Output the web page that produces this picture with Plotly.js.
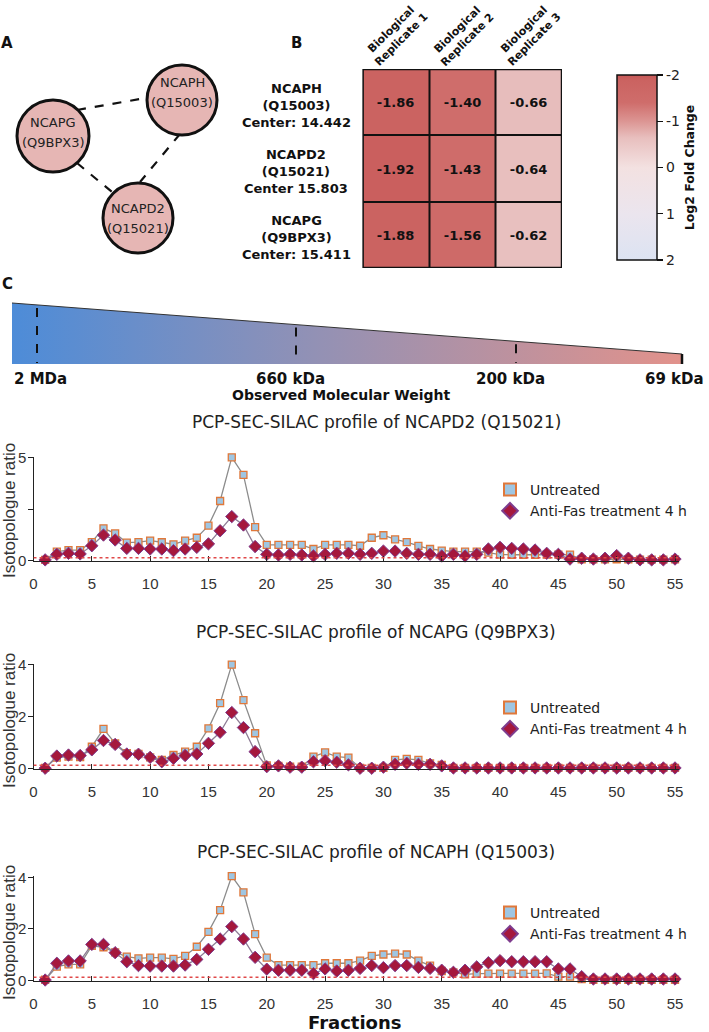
<!DOCTYPE html>
<html><head><meta charset="utf-8">
<script src="https://cdn.plot.ly/plotly-3.0.1.min.js"></script>
<style>html,body{margin:0;padding:0;background:#fff}#chart{width:709px;height:1032px}</style>
</head><body><div id="chart"></div>
<script>
// ---------------- DATA ----------------
// Panel A: interaction network
const nodeNames = ['NCAPH', 'NCAPG', 'NCAPD2'];
const nodeIds = ['(Q15003)', '(Q9BPX3)', '(Q15021)'];
const edgeFrom = ['NCAPG', 'NCAPG', 'NCAPH'];
const edgeTo = ['NCAPH', 'NCAPD2', 'NCAPD2'];

// Panel B: heatmap of log2 fold change
const hmProteins = ['NCAPH', 'NCAPD2', 'NCAPG'];
const hmIds = ['(Q15003)', '(Q15021)', '(Q9BPX3)'];
const hmCenters = ['Center: 14.442', 'Center 15.803', 'Center: 15.411'];
const hmReplicates = ['Biological<br>Replicate 1', 'Biological<br>Replicate 2', 'Biological<br>Replicate 3'];
const replicate1 = [-1.86, -1.92, -1.88];
const replicate2 = [-1.40, -1.43, -1.56];
const replicate3 = [-0.66, -0.64, -0.62];
const colorbarTicks = [-2, -1, 0, 1, 2];
const colorbarTitle = 'Log2 Fold Change';

// Panel C: molecular weight scale
const mwLabels = ['2 MDa', '660 kDa', '200 kDa', '69 kDa'];
const mwTitle = 'Observed Molecular Weight';

// Profiles
const fractions = [1,2,3,4,5,6,7,8,9,10,11,12,13,14,15,16,17,18,19,20,21,22,23,24,25,26,27,28,29,30,31,32,33,34,35,36,37,38,39,40,41,42,43,44,45,46,47,48,49,50,51,52,53,54,55];
const xTickVals = [0,5,10,15,20,25,30,35,40,45,50,55];
const seriesNames = ['Untreated', 'Anti-Fas treatment 4 h'];
const profileTitles = ['PCP-SEC-SILAC profile of NCAPD2 (Q15021)', 'PCP-SEC-SILAC profile of NCAPG (Q9BPX3)', 'PCP-SEC-SILAC profile of NCAPH (Q15003)'];
const ncapd2Untreated = [0.02,0.42,0.5,0.5,0.89,1.56,1.31,0.86,0.89,0.96,
  0.88,0.78,0.96,1.1,1.69,2.89,5.02,4.16,1.62,0.75,
  0.75,0.75,0.75,0.55,0.75,0.75,0.75,0.71,1.1,1.22,
  1.02,0.89,0.7,0.55,0.47,0.42,0.42,0.42,0.37,0.28,
  0.27,0.27,0.27,0.28,0.28,0.28,0.05,0.04,0.04,0.05,
  0.04,0.03,0.03,0.03,0.04];
const ncapd2AntiFas = [0.02,0.29,0.34,0.31,0.71,1.23,0.99,0.58,0.58,0.55,
  0.55,0.47,0.55,0.63,0.8,1.44,2.13,1.72,0.67,0.29,
  0.26,0.29,0.26,0.21,0.29,0.34,0.34,0.29,0.34,0.45,
  0.45,0.34,0.29,0.29,0.21,0.29,0.21,0.29,0.55,0.63,
  0.58,0.55,0.5,0.34,0.29,0.06,0.1,0.06,0.1,0.23,
  0.1,0.02,0.02,0.02,0.06];
const ncapgUntreated = [0.02,0.42,0.46,0.44,0.84,1.53,0.97,0.59,0.56,0.43,
  0.33,0.52,0.65,0.84,1.55,2.52,4.01,2.64,1.36,0.12,
  0.1,0.07,0.07,0.46,0.62,0.46,0.42,0.02,0.02,0.02,
  0.33,0.37,0.33,0.2,0.14,0.02,0.02,0.02,0.02,0.02,
  0.02,0.02,0.02,0.02,0.02,0.02,0.02,0.02,0.02,0.02,
  0.02,0.02,0.02,0.02,0.02];
const ncapgAntiFas = [0.01,0.48,0.52,0.5,0.72,1.08,0.93,0.56,0.55,0.43,
  0.26,0.39,0.5,0.56,0.97,1.4,2.16,1.58,0.65,0.07,
  0.1,0.05,0.05,0.26,0.3,0.24,0.14,0.01,0.01,0.05,
  0.16,0.2,0.16,0.16,0.1,0.02,0.02,0.02,0.02,0.02,
  0.02,0.02,0.02,0.02,0.02,0.02,0.02,0.02,0.02,0.02,
  0.02,0.02,0.02,0.02,0.02];
const ncaphUntreated = [0.02,0.53,0.62,0.62,1.33,1.28,1.08,0.92,0.85,0.88,
  0.88,0.83,0.95,1.3,1.88,2.72,4.04,3.41,1.79,0.88,
  0.59,0.59,0.59,0.59,0.66,0.66,0.66,0.76,0.95,1.0,
  1.03,1.0,0.76,0.57,0.36,0.31,0.23,0.26,0.26,0.26,
  0.26,0.26,0.26,0.27,0.14,0.14,0.05,0.02,0.02,0.02,
  0.02,0.02,0.02,0.02,0.02];
const ncaphAntiFas = [0.01,0.66,0.75,0.75,1.39,1.39,1.07,0.72,0.57,0.55,
  0.55,0.55,0.59,0.81,1.2,1.6,2.08,1.6,0.89,0.43,
  0.39,0.39,0.39,0.26,0.44,0.36,0.39,0.46,0.57,0.49,
  0.57,0.57,0.5,0.46,0.39,0.31,0.39,0.52,0.68,0.76,
  0.72,0.72,0.72,0.72,0.44,0.44,0.14,0.05,0.05,0.05,
  0.05,0.05,0.05,0.05,0.05];
const thresholdLevel = 0.12;

// ---------------- LAYOUT CONSTANTS (pixels) ----------------
const W = 709, H = 1032;
const fx = p => p / W;
const fy = p => 1 - p / H;
const nodeLayout = {
  NCAPH:  {c: [182, 100], r: 35, t: 92},
  NCAPG:  {c: [53, 136],  r: 36, t: 132},
  NCAPD2: {c: [138, 218], r: 35, t: 218}
};
const edgeLayout = [
  [[77, 110], [146, 98]],
  [[77, 163], [112, 192]],
  [[180, 134], [140, 182]]
];
const profileLayout = [
  {xa: 'x',  ya: 'y',  xk: 'xaxis',  yk: 'yaxis',  lg: 'legend',  bottom: 560.7, top: 456.7, range: [-0.02, 5.05], tv: [0, 2.5, 5], tt: ['0', '', '5'], title: 421.7, ytitle: 511, legTop: 474},
  {xa: 'x3', ya: 'y3', xk: 'xaxis3', yk: 'yaxis3', lg: 'legend2', bottom: 769.0, top: 663.6, range: [-0.02, 4.05], tv: [0, 2, 4], tt: ['0', '2', '4'], title: 631.7, ytitle: 721, legTop: 692},
  {xa: 'x4', ya: 'y4', xk: 'xaxis4', yk: 'yaxis4', lg: 'legend3', bottom: 980.8, top: 875.8, range: [-0.02, 4.05], tv: [0, 2, 4], tt: ['0', '2', '4'], title: 851.7, ytitle: 933, legTop: 897}
];
const profileData = [
  [ncapd2Untreated, ncapd2AntiFas],
  [ncapgUntreated, ncapgAntiFas],
  [ncaphUntreated, ncaphAntiFas]
];
const xRange = [0, 55.3];
const xDomainPx = [33.5, 678.5];
const seriesStyle = [
  {line: {color: '#8c8c8c', width: 1.3}, marker: {symbol: 'square', size: 7, color: '#9fc6e2', line: {color: '#e0783a', width: 1.3}}},
  {line: {color: '#8e7c95', width: 1.3}, marker: {symbol: 'diamond', size: 9.5, color: '#a5183d', line: {color: '#7e3c8e', width: 1}}}
];

const traces = [];
const shapes = [];
const annotations = [];
const layout = {
  width: W, height: H,
  margin: {l: 0, r: 0, t: 0, b: 0},
  paper_bgcolor: '#ffffff',
  plot_bgcolor: 'rgba(0,0,0,0)',
  font: {family: 'DejaVu Sans', color: '#222'},
  showlegend: true
};

const px = (x, y, text, opts) => Object.assign({xref: 'x5', yref: 'y5', x: x, y: y, text: text, showarrow: false, xanchor: 'center', yanchor: 'middle'}, opts || {});

// ---------- Pixel overlay axis ----------
layout.xaxis5 = {domain: [0, 1], range: [0, W], visible: false, fixedrange: true, anchor: 'y5'};
layout.yaxis5 = {domain: [0, 1], range: [H, 0], visible: false, fixedrange: true, anchor: 'x5'};

// ---------- Panel letters ----------
annotations.push(px(7, 43, '<b>A</b>', {font: {size: 15, color: '#111'}}));
annotations.push(px(296, 43, '<b>B</b>', {font: {size: 15, color: '#111'}}));
annotations.push(px(7, 284, '<b>C</b>', {font: {size: 15, color: '#111'}}));

// ---------- Panel A: network ----------
edgeFrom.forEach((f, i) => {
  const e = edgeLayout[i];
  shapes.push({type: 'line', xref: 'x5', yref: 'y5', x0: e[0][0], y0: e[0][1], x1: e[1][0], y1: e[1][1],
    line: {color: '#111', width: 2.2, dash: 'dash'}});
});
nodeNames.forEach((n, i) => {
  const L = nodeLayout[n];
  shapes.push({type: 'circle', xref: 'x5', yref: 'y5', x0: L.c[0] - L.r, x1: L.c[0] + L.r, y0: L.c[1] - L.r, y1: L.c[1] + L.r,
    fillcolor: '#e6b6b4', line: {color: '#111', width: 3}});
  annotations.push(px(L.c[0], L.t - 10, n, {font: {size: 13, color: '#222'}}));
  annotations.push(px(L.c[0], L.t + 10, nodeIds[i], {font: {size: 13, color: '#222'}}));
});

// ---------- Panel B: heatmap ----------
const zRows = hmProteins.map((p, i) => [replicate1[i], replicate2[i], replicate3[i]]);
traces.push({
  type: 'heatmap',
  x: [0, 1, 2],
  y: [0, 1, 2],
  z: zRows.map(r => r.map(v => -v)),
  text: zRows.map(r => r.map(v => '<b>' + v.toFixed(2) + '</b>')),
  texttemplate: '%{text}',
  textfont: {family: 'DejaVu Sans', size: 13, color: '#111'},
  xgap: 2, ygap: 2,
  zmin: -2, zmax: 2,
  colorscale: [[0, '#dce3f2'], [0.25, '#ebe5ee'], [0.5, '#f3e1e1'], [0.66, '#e8bfbe'],
               [0.75, '#dc9593'], [0.85, '#cf6d6b'], [0.97, '#cb6361'], [1, '#c75857']],
  xaxis: 'x2', yaxis: 'y2',
  hoverinfo: 'skip',
  showscale: true,
  colorbar: {
    x: fx(617), xanchor: 'left', xpad: 0,
    y: fy(167.5), yanchor: 'middle', ypad: 0,
    len: 185, lenmode: 'pixels',
    thickness: 40, thicknessmode: 'pixels',
    outlinewidth: 1.5, outlinecolor: '#111',
    tickvals: colorbarTicks.map(v => -v),
    ticktext: colorbarTicks.map(v => String(v)),
    ticks: 'outside', ticklen: 6, tickcolor: '#111', tickwidth: 1.2,
    tickfont: {family: 'DejaVu Sans', size: 14, color: '#222'},
    title: {text: '<b>' + colorbarTitle + '</b>', side: 'right', font: {family: 'DejaVu Sans', size: 12.5, color: '#111'}}
  }
});
layout.xaxis2 = {domain: [fx(362.5), fx(562)], range: [-0.5, 2.5], anchor: 'y2', showticklabels: false, showgrid: false, zeroline: false, ticks: '', fixedrange: true};
layout.yaxis2 = {domain: [fy(268), fy(69)], range: [2.5, -0.5], anchor: 'x2', showticklabels: false, showgrid: false, zeroline: false, ticks: '', fixedrange: true};
shapes.push({type: 'rect', xref: 'x2', yref: 'y2', x0: -0.5, x1: 2.5, y0: -0.5, y1: 2.5, fillcolor: '#111', line: {width: 0}, layer: 'below'});
shapes.push({type: 'rect', xref: 'x2', yref: 'y2', x0: -0.5, x1: 2.5, y0: -0.5, y1: 2.5, fillcolor: 'rgba(0,0,0,0)', line: {color: '#111', width: 2.5}, layer: 'above'});
hmReplicates.forEach((r, j) => {
  annotations.push({xref: 'x2', yref: 'y5', x: j, y: 34, text: '<b>' + r + '</b>', textangle: -45, showarrow: false,
    font: {family: 'DejaVu Sans', size: 11, color: '#111'}, xanchor: 'center', yanchor: 'middle'});
});
hmProteins.forEach((p, i) => {
  annotations.push({xref: 'x5', yref: 'y2', x: 296, y: i, yshift: -3, text: '<b>' + p + '<br>' + hmIds[i] + '<br>' + hmCenters[i] + '</b>',
    showarrow: false, align: 'center', font: {family: 'DejaVu Sans', size: 13, color: '#111'}, xanchor: 'center', yanchor: 'middle'});
});

// ---------- Panel C: molecular weight wedge ----------
const wedgeTop = [303, 354], wedgeX = [12, 682], wedgeBottom = 364;
traces.push({
  type: 'scatter', mode: 'none', xaxis: 'x5', yaxis: 'y5', hoverinfo: 'skip', showlegend: false,
  x: [wedgeX[0], wedgeX[1], wedgeX[1], wedgeX[0]],
  y: [wedgeTop[0], wedgeTop[1], wedgeBottom, wedgeBottom],
  fill: 'toself',
  fillgradient: {type: 'horizontal', colorscale: [[0, '#4d8cd8'], [0.45, '#9291b5'], [1, '#e2928b']]}
});
shapes.push({type: 'line', xref: 'x5', yref: 'y5', x0: wedgeX[0], y0: wedgeTop[0], x1: wedgeX[1], y1: wedgeTop[1], line: {color: '#333', width: 1}});
const mwMarkX = [37, 296, 516];
const mwLabelX = [40, 290, 510, 674];
mwMarkX.forEach(x => {
  const yt = wedgeTop[0] + (x - wedgeX[0]) * (wedgeTop[1] - wedgeTop[0]) / (wedgeX[1] - wedgeX[0]) + 3;
  shapes.push({type: 'line', xref: 'x5', yref: 'y5', x0: x, x1: x, y0: yt, y1: wedgeBottom - 1, line: {color: '#111', width: 2, dash: 'dash'}});
});
shapes.push({type: 'line', xref: 'x5', yref: 'y5', x0: wedgeX[1], x1: wedgeX[1], y0: wedgeTop[1], y1: wedgeBottom, line: {color: '#111', width: 2.5}});
mwLabels.forEach((l, i) => {
  annotations.push(px(mwLabelX[i], 379, '<b>' + l + '</b>', {font: {size: 15, color: '#111'}}));
});
annotations.push(px(341, 395, '<b>' + mwTitle + '</b>', {font: {size: 14, color: '#111'}}));

// ---------- Profile charts ----------
profileLayout.forEach((P, k) => {
  profileData[k].forEach((vals, s) => {
    traces.push({
      type: 'scatter', mode: 'lines', name: seriesNames[s], x: fractions, y: vals,
      xaxis: P.xa, yaxis: P.ya, showlegend: false, hoverinfo: 'skip', cliponaxis: false,
      line: seriesStyle[s].line
    });
    traces.push({
      type: 'scatter', mode: 'markers', name: seriesNames[s], x: fractions, y: vals,
      xaxis: P.xa, yaxis: P.ya, legend: P.lg, hoverinfo: 'skip', cliponaxis: false,
      marker: seriesStyle[s].marker
    });
  });
  layout[P.xk] = {
    domain: [fx(xDomainPx[0]), fx(xDomainPx[1])], range: xRange, anchor: P.ya,
    tickvals: xTickVals, ticks: 'inside', ticklen: 5, tickwidth: 1, tickcolor: '#222',
    showline: true, linecolor: '#222', linewidth: 1, showgrid: false, zeroline: false,
    ticklabelstandoff: 9,
    tickfont: {family: 'Liberation Sans', size: 15, color: '#333'}, fixedrange: true
  };
  layout[P.yk] = {
    domain: [fy(P.bottom), fy(P.top)], range: P.range, anchor: P.xa,
    tickvals: P.tv, ticks: 'outside', ticklen: 5, tickwidth: 1, tickcolor: '#222',
    showticklabels: false,
    showline: true, linecolor: '#222', linewidth: 1, showgrid: false, zeroline: false,
    fixedrange: true
  };
  // y tick labels placed on the axis' own value scale
  P.tv.forEach((v, i) => {
    if (!P.tt[i]) return;
    annotations.push({xref: 'x5', yref: P.ya, x: 27.5, y: v, text: P.tt[i], showarrow: false,
      xanchor: 'right', yanchor: 'middle', font: {family: 'Liberation Sans', size: 15, color: '#333'}});
  });
  layout[P.lg] = {
    x: fx(490), y: fy(P.legTop), xanchor: 'left', yanchor: 'top',
    bgcolor: 'rgba(0,0,0,0)', borderwidth: 0, itemsizing: 'constant', tracegroupgap: 0,
    font: {family: 'DejaVu Sans', size: 14, color: '#222'}
  };
  shapes.push({type: 'line', xref: P.xa, yref: P.ya, x0: xRange[0], x1: xRange[1], y0: thresholdLevel, y1: thresholdLevel,
    line: {color: '#e04848', width: 1.5, dash: 'dot'}});
  annotations.push(px(376, P.title, profileTitles[k], {font: {family: 'DejaVu Sans', size: 17, color: '#222'}}));
  annotations.push(px(9, P.ytitle, 'Isotopologue ratio', {textangle: -90, font: {family: 'Liberation Sans', size: 17, color: '#333'}}));
});
annotations.push(px(355, 1022, '<b>Fractions</b>', {font: {family: 'DejaVu Sans', size: 18, color: '#111'}}));

layout.shapes = shapes;
layout.annotations = annotations;

Plotly.newPlot('chart', traces, layout, {displayModeBar: false, staticPlot: true});
</script>
</body></html>
